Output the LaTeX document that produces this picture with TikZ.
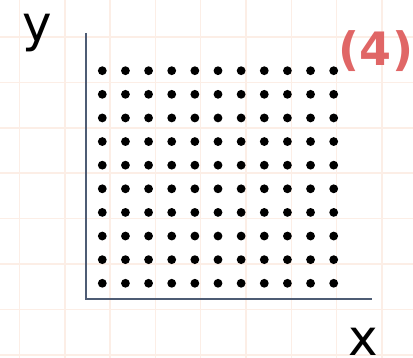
\documentclass[tikz,border=0pt]{standalone}
\usepackage{fontspec}
\setmainfont{DejaVu Sans}
\definecolor{gridc}{RGB}{252,238,230}
\definecolor{axisc}{RGB}{78,92,116}
\definecolor{labc}{RGB}{224,102,102}
\begin{document}
\begin{tikzpicture}[x=1pt,y=-1pt,
  gridline/.style={draw=gridc,line width=1.5pt},
  axisline/.style={draw=axisc,line width=1.8pt},
  dotc/.style={fill=black},
  axlab/.style={font=\fontsize{50}{50}\selectfont,inner sep=0pt,anchor=base},
  tag/.style={font=\fontsize{46}{46}\selectfont\bfseries,text=labc,inner sep=0pt,anchor=base}]
\useasboundingbox (0,0) rectangle (413,358);
\fill[white] (0,0) rectangle (413,358);
\foreach \i in {0,...,8} {
  \draw[gridline] ({19.5+45.3*\i},0) -- ({19.5+45.3*\i},358);
}
\foreach \j in {0,...,7} {
  \draw[gridline] (0,{37+45.4*\j}) -- (413,{37+45.4*\j});
}
\coordinate (ytop) at (86,33);
\coordinate (orig) at (86,299);
\coordinate (xend) at (372,299);
\draw[axisline] (ytop) -- (orig) -- (xend);
\foreach \i in {0,...,10} {
  \foreach \j in {0,...,9} {
    \fill[dotc] ({102.3+23.14*\i},{70.7+23.62*\j}) circle (4.4);
  }
}
\node[axlab] (ylab) at (37,42) {y};
\node[axlab] (xlab) at (363,356) {x};
\node[tag] (tag4) at (376,66) {(4)};
\end{tikzpicture}
\end{document}
